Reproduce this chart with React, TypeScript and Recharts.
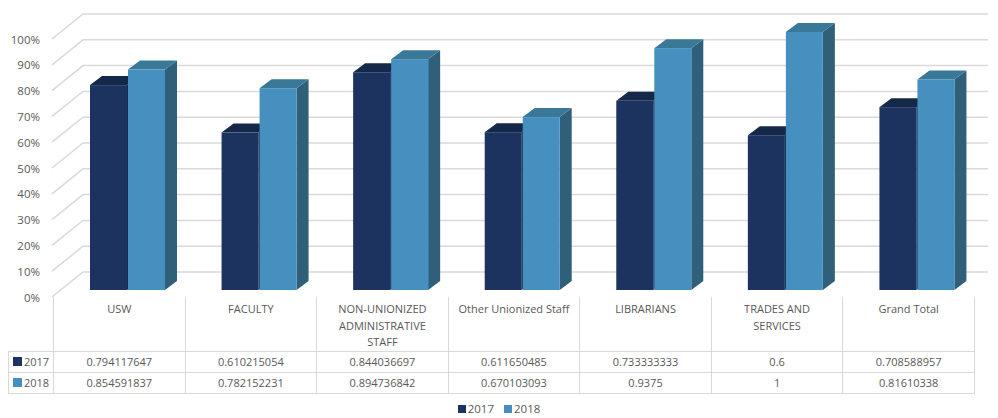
import { BarChart, Bar, XAxis, YAxis, CartesianGrid } from "recharts";

const categories = [
  "USW",
  "FACULTY",
  "NON-UNIONIZED ADMINISTRATIVE STAFF",
  "Other Unionized Staff",
  "LIBRARIANS",
  "TRADES AND SERVICES",
  "Grand Total",
];
const values2017 = [0.794117647, 0.610215054, 0.844036697, 0.611650485, 0.733333333, 0.6, 0.708588957];
const values2018 = [0.854591837, 0.782152231, 0.894736842, 0.670103093, 0.9375, 1, 0.81610338];
const seriesNames = ["2017", "2018"];
const yTicks = [0, 0.1, 0.2, 0.3, 0.4, 0.5, 0.6, 0.7, 0.8, 0.9, 1];

const data = categories.map((name, i) => ({ name, v2017: values2017[i], v2018: values2018[i] }));

const W = 998;
const H = 418;
const PLOT_L = 62;
const PLOT_R = 983;
const PLOT_T = 32;
const PLOT_B = 290;
const COL_W = (PLOT_R - PLOT_L) / categories.length;
const TEXT = "#595959";
const GRID = "#d9d9d9";
const FONT = "'Open Sans', 'Noto Sans', sans-serif";

const palette = {
  v2017: { front: "#1c335f", top: "#142849", side: "#15294b" },
  v2018: { front: "#4690bf", top: "#3a7898", side: "#2f5f79" },
};

// bar depth
const DX = 12;
const DY = 9;

const makeBar3D = (c: { front: string; top: string; side: string }) => (props: any) => {
  const { x, y, width, height } = props;
  if (!height || height <= 0) return <g />;
  const r = x + width;
  const b = y + height;
  return (
    <g>
      <polygon points={`${r},${y} ${r + DX},${y - DY} ${r + DX},${b - DY} ${r},${b}`} fill={c.side} />
      <polygon points={`${x},${y} ${x + DX},${y - DY} ${r + DX},${y - DY} ${r},${y}`} fill={c.top} />
      <rect x={x} y={y} width={width} height={height} fill={c.front} />
    </g>
  );
};

// back wall gridline with its slanted piece on the side wall
const gridLine = (p: any) => {
  const { x1, y1, x2 } = p;
  const d = `M${x1 - 10},${y1 + 7} L${x1 + 21},${y1 - 18} L${x2 + 5},${y1 - 18}`;
  return <path key={`g-${p.index}`} d={d} fill="none" stroke={GRID} strokeWidth={1.5} />;
};

const YTick = (p: any) => {
  const { y, payload } = p;
  return (
    <text x={40} y={y + 7} textAnchor="end" dominantBaseline="central" fontSize={11.5} fill={TEXT} fontFamily={FONT}>
      {`${Math.round(payload.value * 100)}%`}
    </text>
  );
};

const cell = { border: `1px solid ${GRID}`, padding: 0 } as const;

export default function App() {
  const rows = [
    { name: seriesNames[0], color: palette.v2017.front, values: values2017 },
    { name: seriesNames[1], color: palette.v2018.front, values: values2018 },
  ];
  return (
    <div style={{ position: "absolute", left: 0, top: 0, width: W, height: H, background: "#fff", fontFamily: FONT, color: TEXT }}>
      <BarChart
        width={W}
        height={H}
        data={data}
        margin={{ top: PLOT_T, right: W - PLOT_R, bottom: H - PLOT_B, left: 0 }}
        barSize={37}
        barGap={1}
      >
        <CartesianGrid vertical={false} horizontal={gridLine} />
        <XAxis dataKey="name" hide />
        <YAxis
          width={PLOT_L}
          domain={[0, 1]}
          ticks={yTicks}
          axisLine={false}
          tickLine={false}
          tick={YTick}
          interval={0}
        />
        <Bar dataKey="v2017" name={seriesNames[0]} fill={palette.v2017.front} shape={makeBar3D(palette.v2017)} isAnimationActive={false} />
        <Bar dataKey="v2018" name={seriesNames[1]} fill={palette.v2018.front} shape={makeBar3D(palette.v2018)} isAnimationActive={false} />
      </BarChart>

      <table
        style={{
          position: "absolute",
          left: 8,
          top: 297,
          borderCollapse: "collapse",
          tableLayout: "fixed",
          width: 45 + COL_W * categories.length,
          fontSize: 11,
        }}
      >
        <colgroup>
          <col style={{ width: 45 }} />
          {categories.map((c) => (
            <col key={c} style={{ width: COL_W }} />
          ))}
        </colgroup>
        <tbody>
          <tr style={{ height: 52 }}>
            <td style={{ padding: 0 }} />
            {categories.map((c) => (
              <td
                key={c}
                style={{
                  borderLeft: `1px solid ${GRID}`,
                  borderRight: `1px solid ${GRID}`,
                  verticalAlign: "top",
                  textAlign: "center",
                  padding: "4px 8px 0",
                  lineHeight: "16.5px",
                }}
              >
                {c}
              </td>
            ))}
          </tr>
          {rows.map((r) => (
            <tr key={r.name} style={{ height: 21 }}>
              <td style={{ ...cell, whiteSpace: "nowrap", lineHeight: "19px" }}>
                <span style={{ display: "inline-block", width: 9, height: 9, background: r.color, marginLeft: 4, marginRight: 2 }} />
                {r.name}
              </td>
              {r.values.map((v, i) => (
                <td key={i} style={{ ...cell, textAlign: "center", lineHeight: "19px" }}>
                  {String(v)}
                </td>
              ))}
            </tr>
          ))}
        </tbody>
      </table>

      <div
        style={{
          position: "absolute",
          left: 0,
          top: 401,
          width: W,
          display: "flex",
          justifyContent: "center",
          fontSize: 11.5,
          lineHeight: "16px",
        }}
      >
        {rows.map((r, i) => (
          <span key={r.name} style={{ display: "inline-flex", alignItems: "center", marginLeft: i ? 10 : 0 }}>
            <span style={{ display: "inline-block", width: 8, height: 8, background: r.color, marginRight: 2 }} />
            {r.name}
          </span>
        ))}
      </div>
    </div>
  );
}
